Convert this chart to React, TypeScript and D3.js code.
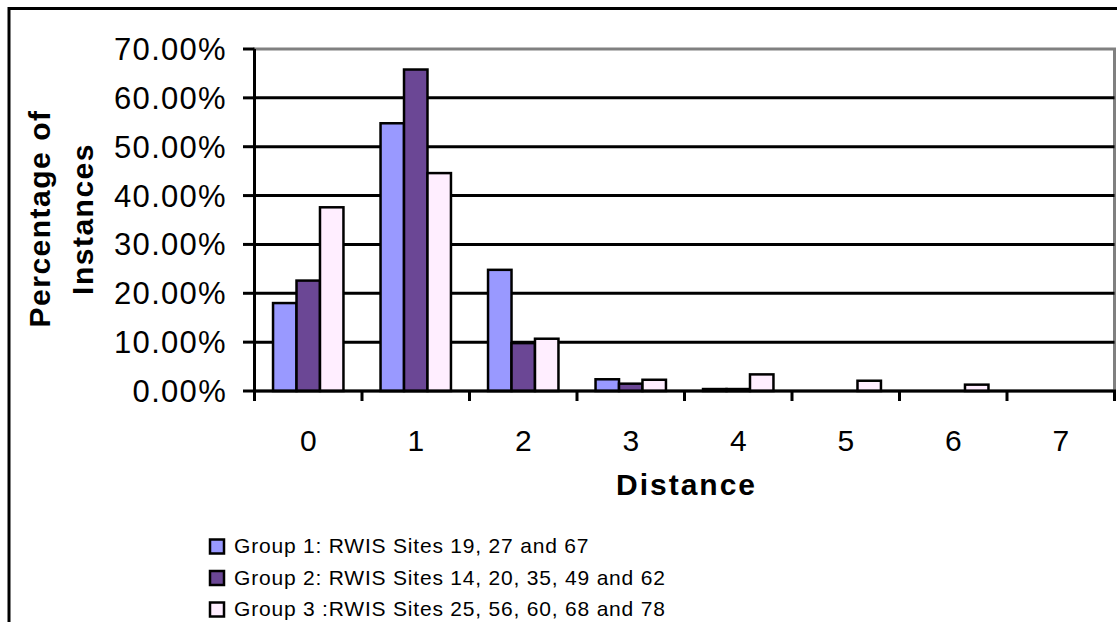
import React from "react";
import * as d3 from "d3";

const categories = ["0", "1", "2", "3", "4", "5", "6", "7"];
const seriesNames = [
  "Group 1: RWIS Sites 19, 27 and 67",
  "Group 2: RWIS Sites 14, 20, 35, 49 and 62",
  "Group 3 :RWIS Sites 25, 56, 60, 68 and 78",
];
const group1 = [0.18, 0.548, 0.248, 0.024, 0.004, 0, 0, 0];
const group2 = [0.226, 0.658, 0.098, 0.015, 0.004, 0, 0, 0];
const group3 = [0.376, 0.446, 0.107, 0.023, 0.034, 0.021, 0.013, 0];
const yTicks = [0, 0.1, 0.2, 0.3, 0.4, 0.5, 0.6, 0.7];
const colors = ["#9999FF", "#6B4795", "#FFEEFF"];

const FONT = "'Liberation Sans', Arial, Helvetica, sans-serif";

export default function App() {
  const W = 1117;
  const H = 622;
  const left = 254.5;
  const right = 1114.5;
  const top = 49;
  const bottom = 391;

  const series = [group1, group2, group3];
  const x0 = d3.scaleBand<string>().domain(categories).range([left, right]).paddingInner(0).paddingOuter(0);
  const x1 = d3
    .scaleBand<number>()
    .domain([0, 1, 2])
    .range([0, x0.bandwidth()])
    .paddingInner(0)
    .paddingOuter(0.79);
  const y = d3.scaleLinear().domain([0, 0.7]).range([bottom, top]);
  const fmt = d3.format(".2%");

  const boundaries = categories.map((c) => x0(c)!).concat([right]);

  return (
    <svg
      width={W}
      height={H}
      style={{ position: "absolute", left: 0, top: 0, background: "#fff" }}
    >
      <rect x={0} y={0} width={W} height={H} fill="#fff" />
      {/* outer chart border */}
      <rect x={9} y={8.5} width={W + 20} height={H + 20} fill="none" stroke="#000" strokeWidth={3} />

      {/* plot area border */}
      <rect x={left} y={y(0.7)} width={right - left} height={bottom - y(0.7)} fill="none" stroke="#808080" strokeWidth={3} />

      {/* gridlines */}
      {yTicks
        .filter((t) => t > 0 && t < 0.7)
        .map((t) => (
          <line key={t} x1={left} x2={right} y1={y(t)} y2={y(t)} stroke="#000" strokeWidth={3} />
        ))}

      {/* bars */}
      {categories.map((c, i) =>
        series.map((s, k) => {
          const v = s[i];
          if (v <= 0) return null;
          const bx = x0(c)! + x1(k)!;
          return (
            <rect
              key={c + "-" + k}
              x={bx}
              y={y(v)}
              width={x1.bandwidth()}
              height={bottom - y(v)}
              fill={colors[k]}
              stroke="#000"
              strokeWidth={2.5}
            />
          );
        })
      )}

      {/* y axis */}
      <line x1={left} x2={left} y1={y(0.7)} y2={bottom} stroke="#000" strokeWidth={3} />
      {yTicks.map((t) => (
        <g key={"yt" + t}>
          <line x1={243} x2={left} y1={y(t)} y2={y(t)} stroke="#000" strokeWidth={3} />
          <text
            x={227}
            y={y(t) + 11}
            textAnchor="end"
            fontFamily={FONT}
            fontSize={31}
            letterSpacing={1.3}
            fill="#000"
          >
            {fmt(t)}
          </text>
        </g>
      ))}

      {/* x axis */}
      <line x1={left - 1.5} x2={right + 1.5} y1={bottom} y2={bottom} stroke="#000" strokeWidth={3} />
      {boundaries.map((bx, i) => (
        <line key={"xt" + i} x1={bx} x2={bx} y1={bottom} y2={bottom + 10} stroke="#000" strokeWidth={3} />
      ))}
      {categories.map((c) => (
        <text
          key={"xl" + c}
          x={x0(c)! + x0.bandwidth() / 2}
          y={451}
          textAnchor="middle"
          fontFamily={FONT}
          fontSize={30}
          fill="#000"
        >
          {c}
        </text>
      ))}

      {/* axis titles */}
      <text
        x={(left + right) / 2 + 2}
        y={495}
        textAnchor="middle"
        fontFamily={FONT}
        fontSize={30}
        fontWeight="bold"
        letterSpacing={2}
        fill="#000"
      >
        Distance
      </text>
      <text
        transform={`translate(50,218.5) rotate(-90)`}
        textAnchor="middle"
        fontFamily={FONT}
        fontSize={30}
        fontWeight="bold"
        letterSpacing={1.5}
        fill="#000"
      >
        Percentage of
      </text>
      <text
        transform={`translate(93,219) rotate(-90)`}
        textAnchor="middle"
        fontFamily={FONT}
        fontSize={30}
        fontWeight="bold"
        letterSpacing={1.5}
        fill="#000"
      >
        Instances
      </text>

      {/* legend */}
      {seriesNames.map((name, k) => {
        const base = 553 + k * 31.5;
        return (
          <g key={"lg" + k}>
            <rect x={210} y={base - 13.5} width={14} height={14} fill={colors[k]} stroke="#000" strokeWidth={2.5} />
            <text x={234} y={base} fontFamily={FONT} fontSize={21} letterSpacing={0.8} fill="#000">
              {name}
            </text>
          </g>
        );
      })}
    </svg>
  );
}
